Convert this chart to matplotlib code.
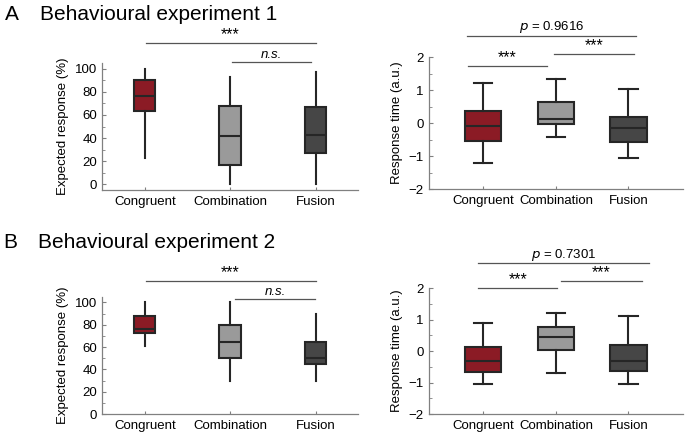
import matplotlib
matplotlib.use('Agg')
from matplotlib import pyplot as plt
from matplotlib.ticker import MultipleLocator

plt.rcParams['font.family'] = ['Liberation Sans', 'DejaVu Sans']

categories = ['Congruent', 'Combination', 'Fusion']
box_colors = ['#8b1b25', '#9a9a9a', '#464646']

# box stats: whislo, q1, med, q3, whishi
exp1_expected = [[23, 63, 76, 90, 100], [0, 17, 42, 68, 93], [0, 27, 43, 67, 97]]
exp1_rt = [[-1.2, -0.53, -0.1, 0.35, 1.22], [-0.42, -0.02, 0.13, 0.63, 1.33],
           [-1.05, -0.58, -0.15, 0.18, 1.02]]
exp2_expected = [[61, 73, 76, 88, 100], [30, 50, 65, 80, 100], [30, 45, 50, 65, 90]]
exp2_rt = [[-1.05, -0.65, -0.3, 0.12, 0.88], [-0.7, 0.05, 0.45, 0.78, 1.2],
           [-1.05, -0.63, -0.3, 0.18, 1.1]]

# significance bars: (x0, x1, y, label)
exp1_expected_sig = [(1.01, 3.0, 122, '***'), (2.02, 2.95, 106, 'n.s.')]
exp1_rt_sig = [(0.77, 3.11, 2.64, '$p$ = 0.9616'), (0.79, 1.88, 1.73, '***'), (1.98, 3.07, 2.09, '***')]
exp2_expected_sig = [(1.01, 3.0, 119, '***'), (2.06, 2.99, 103.5, 'n.s.')]
exp2_rt_sig = [(0.93, 3.28, 2.79, '$p$ = 0.7301'), (0.93, 2.02, 2.0, '***'), (2.07, 3.18, 2.22, '***')]

edge = '#262626'
spine_col = '#808080'


def draw_boxes(ax, stats, width, capw):
    rows = [dict(whislo=s[0], q1=s[1], med=s[2], q3=s[3], whishi=s[4], fliers=[]) for s in stats]
    bp = ax.bxp(rows, positions=[1, 2, 3], widths=width, capwidths=capw,
                patch_artist=True, showfliers=False,
                boxprops=dict(edgecolor=edge, linewidth=1.5),
                whiskerprops=dict(color=edge, linewidth=1.5),
                capprops=dict(color=edge, linewidth=1.5),
                medianprops=dict(color=edge, linewidth=1.5))
    for patch, c in zip(bp['boxes'], box_colors):
        patch.set_facecolor(c)
    if capw == 0:
        for cap in bp['caps']:
            cap.set_visible(False)


def style_axes(ax, ylim, major, minor, xlim):
    ax.set_xlim(*xlim)
    ax.set_ylim(*ylim)
    ax.yaxis.set_major_locator(MultipleLocator(major))
    ax.yaxis.set_minor_locator(MultipleLocator(minor))
    for s in ['top', 'right']:
        ax.spines[s].set_visible(False)
    for s in ['left', 'bottom']:
        ax.spines[s].set_color(spine_col)
        ax.spines[s].set_linewidth(0.9)
    ax.tick_params(which='both', direction='in', color=spine_col, labelsize=9.5, labelcolor='black')
    ax.tick_params(which='major', length=3)
    ax.tick_params(which='minor', length=2)
    ax.tick_params(axis='x', length=2, pad=4)
    ax.set_xticks([1, 2, 3])
    ax.set_xticklabels(categories)


def draw_sig(ax, sig):
    for x0, x1, y, lab in sig:
        ax.plot([x0, x1], [y, y], color='#555555', linewidth=0.9, clip_on=False)
        italic = 'italic' if lab == 'n.s.' else 'normal'
        fs = 9.5 if lab.startswith('$') or lab == 'n.s.' else 11.5
        ax.annotate(lab, ((x0 + x1) / 2, y), xytext=(0, 0.5), textcoords='offset points',
                    ha='center', va='bottom', fontsize=fs, style=italic, annotation_clip=False)


fig = plt.figure(figsize=(6.85, 4.37), dpi=100)

ax1 = fig.add_axes([0.149, 0.565, 0.374, 0.291])
draw_boxes(ax1, exp1_expected, 0.25, 0)
style_axes(ax1, (-5, 105), 20, 10, (0.5, 3.5))
ax1.set_ylabel('Expected response (%)', fontsize=9.5)
draw_sig(ax1, exp1_expected_sig)

ax2 = fig.add_axes([0.626, 0.5675, 0.371, 0.302])
draw_boxes(ax2, exp1_rt, 0.5, 0.25)
style_axes(ax2, (-2, 2), 1, 0.5, (0.25, 3.75))
ax2.set_ylabel('Response time (a.u.)', fontsize=9.5)
draw_sig(ax2, exp1_rt_sig)

ax3 = fig.add_axes([0.149, 0.0526, 0.374, 0.268])
draw_boxes(ax3, exp2_expected, 0.25, 0)
style_axes(ax3, (0, 105), 20, 10, (0.5, 3.5))
ax3.set_ylabel('Expected response (%)', fontsize=9.5)
draw_sig(ax3, exp2_expected_sig)

ax4 = fig.add_axes([0.626, 0.0526, 0.371, 0.288])
draw_boxes(ax4, exp2_rt, 0.5, 0.25)
style_axes(ax4, (-2, 2), 1, 0.5, (0.25, 3.75))
ax4.set_ylabel('Response time (a.u.)', fontsize=9.5)
draw_sig(ax4, exp2_rt_sig)

fig.text(5 / 685, 1 - 14 / 437, 'A', fontsize=15, va='center', ha='left')
fig.text(40 / 685, 1 - 14 / 437, 'Behavioural experiment 1', fontsize=15, va='center', ha='left')
fig.text(3 / 685, 1 - 243 / 437, 'B', fontsize=15, va='center', ha='left')
fig.text(38 / 685, 1 - 243 / 437, 'Behavioural experiment 2', fontsize=15, va='center', ha='left')

fig.savefig('out.png', dpi=100)
